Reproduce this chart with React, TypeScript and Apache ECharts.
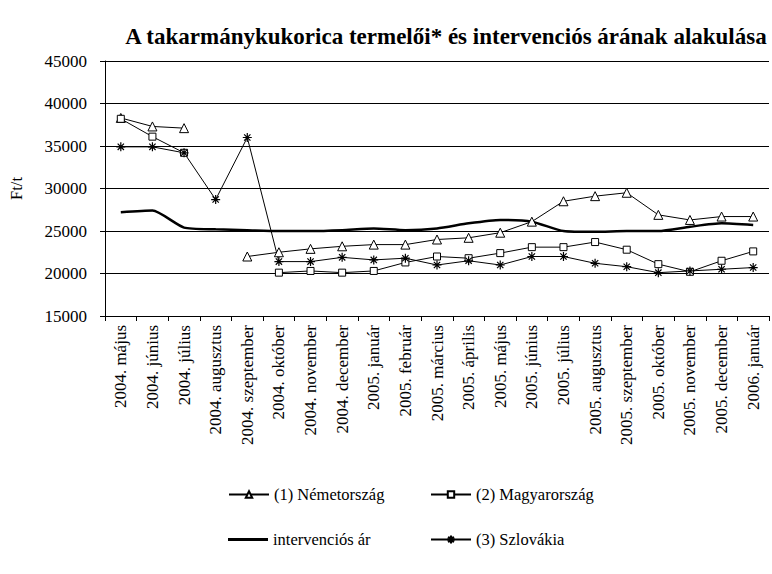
import React, { useEffect, useRef } from "react";
import * as echarts from "echarts";

const categories = [
  "2004. május", "2004. június", "2004. július", "2004. augusztus", "2004. szeptember",
  "2004. október", "2004. november", "2004. december", "2005. január", "2005. február",
  "2005. március", "2005. április", "2005. május", "2005. június", "2005. július",
  "2005. augusztus", "2005. szeptember", "2005. október", "2005. november", "2005. december",
  "2006. január",
];

const nemetorszag = [38300, 37300, 37100, null, 22000, 22500, 22900, 23200, 23400, 23400, 24000, 24200, 24800, 26100, 28500, 29100, 29500, 26900, 26300, 26700, 26700];
const magyarorszag = [38200, 36100, 34200, null, null, 20100, 20300, 20100, 20300, 21300, 22000, 21800, 22400, 23100, 23100, 23700, 22800, 21100, 20200, 21500, 22600];
const intervencios = [27200, 27400, 25400, 25200, 25100, 25000, 25000, 25100, 25300, 25100, 25300, 25900, 26300, 26100, 25000, 24900, 25000, 25000, 25500, 25900, 25700];
const szlovakia = [34900, 34900, 34200, 28700, 36000, 21400, 21400, 21900, 21600, 21800, 21000, 21500, 21000, 22000, 22000, 21200, 20800, 20100, 20300, 20500, 20700];

const FONT = "Liberation Serif, serif";
const STAR = "path://M0,5L10,5M5,0L5,10M1.5,1.5L8.5,8.5M1.5,8.5L8.5,1.5";

export default function App() {
  const ref = useRef<HTMLDivElement>(null);
  useEffect(() => {
    if (!ref.current) return;
    const chart = echarts.init(ref.current, null, { renderer: "svg" });
    const thin = (name: string, data: any[], symbol: string, size: number) => ({
      name,
      type: "line",
      data,
      symbol,
      symbolSize: size,
      showAllSymbol: true,
      lineStyle: { color: "#000", width: 1 },
      itemStyle: { color: "#fff", borderColor: "#000", borderWidth: 1 },
      emphasis: { disabled: true },
    });
    const legendBase = {
      orient: "horizontal",
      itemWidth: 40,
      itemHeight: 8,
      textStyle: { fontFamily: FONT, fontSize: 16.5, color: "#000" },
      selectedMode: false,
    };
    chart.setOption({
      animation: false,
      backgroundColor: "#fff",
      textStyle: { fontFamily: FONT },
      title: {
        text: "A takarmánykukorica termelői* és intervenciós árának alakulása",
        left: 441,
        textAlign: "center",
        top: 20,
        textStyle: { fontFamily: FONT, fontSize: 23, fontWeight: "bold", color: "#000" },
      },
      grid: { left: 102, top: 61, width: 667, height: 255, containLabel: false },
      legend: [
        { ...legendBase, data: ["(1) Németország"], left: 223, top: 481 },
        { ...legendBase, data: ["(2) Magyarország"], left: 425, top: 481 },
        {
          ...legendBase,
          data: [{ name: "intervenciós ár", icon: "path://M0,0L40,0L40,3L0,3Z" }],
          itemHeight: 3,
          left: 223,
          top: 526,
        },
        { ...legendBase, data: ["(3) Szlovákia"], itemHeight: 10, left: 425, top: 526 },
      ],
      xAxis: {
        type: "category",
        data: categories,
        boundaryGap: true,
        axisLine: { lineStyle: { color: "#000", width: 1 } },
        axisTick: { show: true, length: 5, inside: false, lineStyle: { color: "#000" } },
        axisLabel: {
          rotate: 90,
          interval: 0,
          margin: 9,
          fontFamily: FONT,
          fontSize: 17,
          color: "#000",
        },
      },
      yAxis: {
        type: "value",
        min: 15000,
        max: 45000,
        interval: 5000,
        name: "Ft/t",
        nameLocation: "middle",
        nameGap: 80,
        nameRotate: 90,
        nameTextStyle: { fontFamily: FONT, fontSize: 16.5, color: "#000" },
        axisLine: { show: true, lineStyle: { color: "#000", width: 1 } },
        axisTick: { show: true, length: 5, lineStyle: { color: "#000" } },
        axisLabel: {
          margin: 18,
          fontFamily: FONT,
          fontSize: 17,
          color: "#000",
          formatter: (v: number) => String(v),
        },
        splitLine: { show: true, lineStyle: { color: "#000", width: 1 } },
      },
      series: [
        thin("(1) Németország", nemetorszag, "triangle", 9),
        thin("(2) Magyarország", magyarorszag, "rect", 7),
        {
          name: "intervenciós ár",
          type: "line",
          data: intervencios,
          symbol: "none",
          smooth: 0.2,
          lineStyle: { color: "#000", width: 2.5 },
          itemStyle: { color: "#000" },
          emphasis: { disabled: true },
        },
        {
          ...thin("(3) Szlovákia", szlovakia, STAR, 9),
          itemStyle: { color: "#000", borderColor: "#000", borderWidth: 1.2 },
        },
      ],
    });
    return () => chart.dispose();
  }, []);
  return (
    <div
      ref={ref}
      style={{ position: "absolute", left: 0, top: 0, width: 772, height: 574 }}
    />
  );
}
